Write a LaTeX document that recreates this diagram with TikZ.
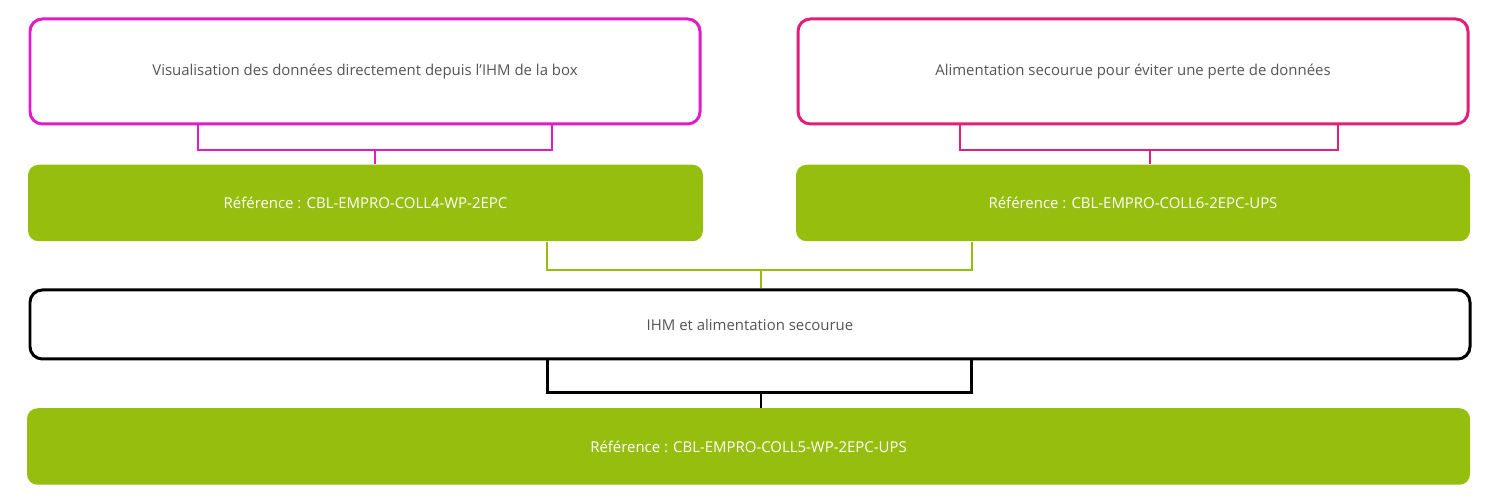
\documentclass[tikz,border=0pt]{standalone}
\usepackage{fontspec}
\setmainfont{Open Sans}
\usetikzlibrary{positioning,calc}
\definecolor{magA}{HTML}{E21BC8}
\definecolor{magB}{HTML}{E11F78}
\definecolor{leaf}{HTML}{96BE0E}
\definecolor{txt}{HTML}{555555}
\begin{document}
\begin{tikzpicture}[
    box/.style={draw, line width=1.7pt, rounded corners=7pt, fill=white, text=txt,
        font=\fontsize{8.5}{10}\selectfont, minimum width=13.4cm, minimum height=2.1cm},
    ref/.style={fill=leaf, rounded corners=6pt, text=white,
        font=\fontsize{8.5}{10}\selectfont, minimum height=1.53cm},
    link/.style={line width=1.1pt},
]
\useasboundingbox (0,0) rectangle (30,10);

\node[box, draw=magA] (vis) at (7.3,8.57) {Visualisation des données directement depuis l’IHM de la box};
\node[box, draw=magB] (alim) at (22.66,8.57) {Alimentation secourue pour éviter une perte de données};

\node[ref, minimum width=13.5cm] (ref1) at (7.31,5.94) {Référence : CBL-EMPRO-COLL4-WP-2EPC};
\node[ref, minimum width=13.48cm] (ref2) at (22.66,5.94) {Référence : CBL-EMPRO-COLL6-2EPC-UPS};

\node[box, draw=black, minimum width=28.8cm, minimum height=1.38cm] (ihm) at (15,3.51) {IHM et alimentation secourue};
\node[ref, minimum width=28.86cm] (ref3) at (14.97,1.07) {Référence : CBL-EMPRO-COLL5-WP-2EPC-UPS};

% brackets
\coordinate (v1) at (3.96,7.0);
\coordinate (v2) at (11.04,7.0);
\coordinate (vm) at (7.5,7.0);
\coordinate (a1) at (19.2,7.0);
\coordinate (a2) at (26.76,7.0);
\coordinate (am) at (23.0,7.0);
\coordinate (g1) at (10.94,4.6);
\coordinate (g2) at (19.44,4.6);
\coordinate (gm) at (15.22,4.6);
\coordinate (b1) at (10.94,2.14);
\coordinate (b2) at (19.42,2.14);
\coordinate (bm) at (15.22,2.14);

\draw[link, magA] (vis.south -| v1) -- (v1) -- (v2) -- (vis.south -| v2);
\draw[link, magA] (vm) -- (ref1.north -| vm);
\draw[link, magB] (alim.south -| a1) -- (a1) -- (a2) -- (alim.south -| a2);
\draw[link, magB] (am) -- (ref2.north -| am);
\draw[link, leaf] (ref1.south -| g1) -- (g1) -- (g2) -- (ref2.south -| g2);
\draw[link, leaf] (gm) -- (ihm.north -| gm);
\draw[line width=1.7pt] (ihm.south -| b1) -- (b1) -- (b2) -- (ihm.south -| b2);
\draw[link] (bm) -- (ref3.north -| bm);

\end{tikzpicture}
\end{document}
